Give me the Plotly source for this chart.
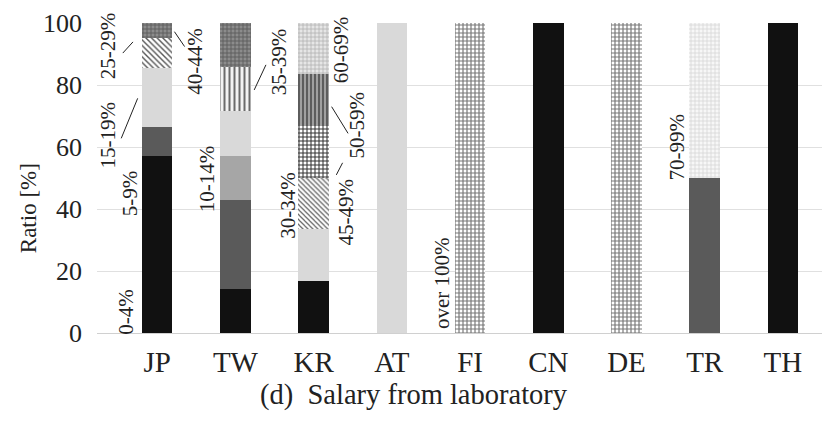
import plotly.graph_objects as go

countries = ["JP", "TW", "KR", "AT", "FI", "CN", "DE", "TR", "TH"]

bands = ["0-4%", "5-9%", "10-14%", "15-19%", "25-29%", "30-34%", "35-39%",
         "40-44%", "45-49%", "50-59%", "60-69%", "70-99%", "over 100%"]

# ratio [%] of each salary band per country (JP n=21, TW n=7, KR n=6, TR n=2)
v_0_4 = [57.1, 14.3, 16.7, 0, 0, 100, 0, 0, 100]
v_5_9 = [9.5, 28.6, 0, 0, 0, 0, 0, 50, 0]
v_10_14 = [0, 14.3, 0, 0, 0, 0, 0, 0, 0]
v_15_19 = [19.0, 14.3, 16.7, 100, 0, 0, 0, 0, 0]
v_25_29 = [9.5, 0, 0, 0, 0, 0, 0, 0, 0]
v_30_34 = [0, 0, 16.7, 0, 0, 0, 0, 0, 0]
v_35_39 = [0, 14.3, 0, 0, 0, 0, 0, 0, 0]
v_40_44 = [4.8, 14.3, 0, 0, 0, 0, 0, 0, 0]
v_45_49 = [0, 0, 16.7, 0, 0, 0, 0, 0, 0]
v_50_59 = [0, 0, 16.7, 0, 0, 0, 0, 0, 0]
v_60_69 = [0, 0, 16.7, 0, 0, 0, 0, 0, 0]
v_70_99 = [0, 0, 0, 0, 0, 0, 0, 50, 0]
v_over100 = [0, 0, 0, 0, 100, 0, 100, 0, 0]

values = [v_0_4, v_5_9, v_10_14, v_15_19, v_25_29, v_30_34, v_35_39,
          v_40_44, v_45_49, v_50_59, v_60_69, v_70_99, v_over100]

styles = [
    dict(color="#111111"),
    dict(color="#5a5a5a"),
    dict(color="#a6a6a6"),
    dict(color="#d9d9d9"),
    dict(color="#ffffff", pattern=dict(shape="\\", fgcolor="#555555", bgcolor="#ffffff", size=4, solidity=0.35, fillmode="replace")),
    dict(color="#ffffff", pattern=dict(shape="\\", fgcolor="#666666", bgcolor="#ffffff", size=3.5, solidity=0.35, fillmode="replace")),
    dict(color="#ffffff", pattern=dict(shape="|", fgcolor="#6a6a6a", bgcolor="#f2f2f2", size=5, solidity=0.4, fillmode="replace")),
    dict(color="#808080", pattern=dict(shape="+", fgcolor="#5a5a5a", bgcolor="#8c8c8c", size=4, solidity=0.4, fillmode="replace")),
    dict(color="#ffffff", pattern=dict(shape="+", fgcolor="#333333", bgcolor="#ffffff", size=4, solidity=0.45, fillmode="replace")),
    dict(color="#999999", pattern=dict(shape="|", fgcolor="#555555", bgcolor="#a0a0a0", size=4, solidity=0.45, fillmode="replace")),
    dict(color="#dddddd", pattern=dict(shape="+", fgcolor="#b0b0b0", bgcolor="#e6e6e6", size=4, solidity=0.35, fillmode="replace")),
    dict(color="#f2f2f2", pattern=dict(shape="+", fgcolor="#d6d6d6", bgcolor="#f7f7f7", size=4, solidity=0.35, fillmode="replace")),
    dict(color="#ffffff", pattern=dict(shape="+", fgcolor="#777777", bgcolor="#ffffff", size=4, solidity=0.5, fillmode="replace")),
]

fig = go.Figure()
for band, vals, st in zip(bands, values, styles):
    fig.add_trace(go.Bar(x=countries, y=vals, name=band, width=0.39,
                         marker=dict(line=dict(width=0), **st)))

FONT = "Liberation Serif"

# segment labels: (text, x in category units, y in data units)
labels = [
    ("0-4%", -0.40, 6.8), ("5-9%", -0.35, 45), ("15-19%", -0.63, 64),
    ("25-29%", -0.63, 92.8), ("40-44%", 0.49, 87.7), ("10-14%", 0.64, 49.7),
    ("35-39%", 1.56, 87.4), ("30-34%", 1.67, 41.3), ("60-69%", 2.36, 91.5),
    ("50-59%", 2.56, 67.1), ("45-49%", 2.42, 39), ("over 100%", 3.64, 16.1),
    ("70-99%", 6.64, 60),
]
# leader lines: (x0, y0, x1, y1)
leaders = [
    (-0.46, 62.8, -0.25, 75.7),
    (-0.44, 90.3, -0.31, 93.9),
    (0.22, 97.2, 0.35, 92.4),
    (1.24, 78.4, 1.39, 86.5),
    (2.23, 73, 2.44, 64.4),
    (2.29, 51, 2.37, 54.9),
]

annotations = [dict(text=t, x=x, y=y, xref="x", yref="y", textangle=-90,
                    showarrow=False, font=dict(family=FONT, size=21, color="#222"))
               for t, x, y in labels]
annotations.append(dict(text="(d)  Salary from laboratory", x=0.437, y=-0.2,
                        xref="paper", yref="paper", showarrow=False,
                        font=dict(family=FONT, size=28.5, color="#222"),
                        xanchor="center", yanchor="middle"))
annotations.append(dict(text="Ratio [%]", x=-0.095, y=0.403, xref="paper", yref="paper",
                        textangle=-90, showarrow=False,
                        font=dict(family=FONT, size=23, color="#222"),
                        xanchor="center", yanchor="middle"))

shapes = [dict(type="line", xref="x", yref="y", x0=a, y0=b, x1=c, y1=d,
               line=dict(color="#222", width=1)) for a, b, c, d in leaders]

fig.update_layout(
    barmode="stack",
    width=835, height=427,
    margin=dict(l=89, r=21, t=15, b=102),
    plot_bgcolor="white", paper_bgcolor="white",
    showlegend=False,
    annotations=annotations,
    shapes=shapes,
    font=dict(family=FONT, color="#222"),
    xaxis=dict(type="category", range=[-0.77, 8.5], showgrid=False,
               showline=True, linecolor="#d0d0d0", linewidth=1,
               tickfont=dict(family=FONT, size=29, color="#222"),
               ticks="", ticklabelstandoff=3, automargin=False),
    yaxis=dict(range=[0, 100], tickvals=[0, 20, 40, 60, 80, 100],
               showgrid=True, gridcolor="#e0e0e0", gridwidth=1,
               zeroline=False, showline=False,
               tickfont=dict(family=FONT, size=26, color="#222"),
               ticks="", ticklabelstandoff=14, automargin=False),
)

fig.write_html("out.html")
